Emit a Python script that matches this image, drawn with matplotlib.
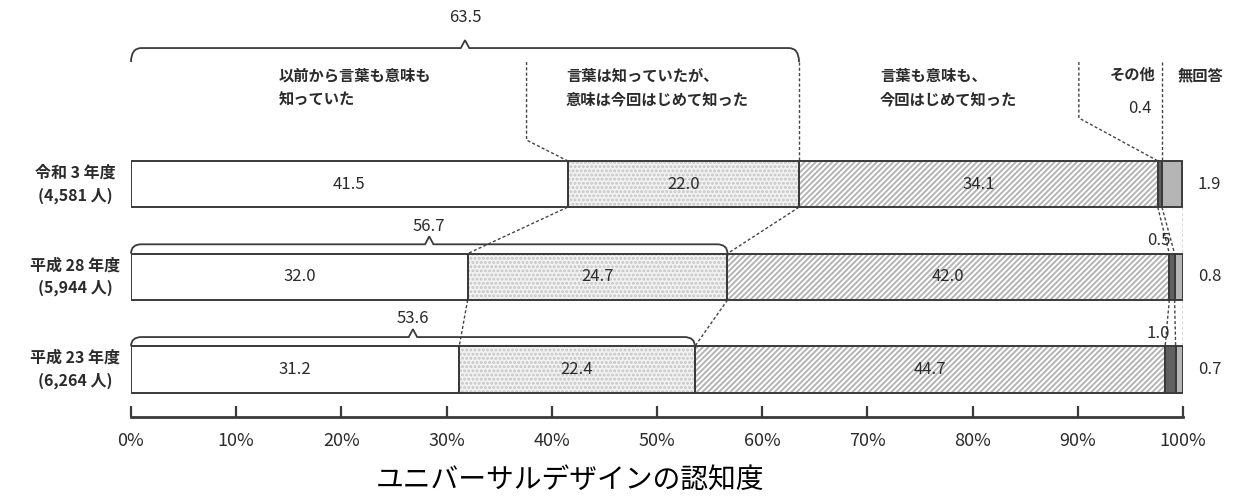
import matplotlib
matplotlib.use('Agg')
import matplotlib.pyplot as plt
from matplotlib.path import Path
from matplotlib.patches import PathPatch
import numpy as np

plt.rcParams['font.family'] = ['Noto Sans CJK JP', 'DejaVu Sans']
plt.rcParams['hatch.linewidth'] = 1.4

# data
rows = ['令和 3 年度\n(4,581 人)', '平成 28 年度\n(5,944 人)', '平成 23 年度\n(6,264 人)']
knew_both = [41.5, 32.0, 31.2]
knew_word = [22.0, 24.7, 22.4]
knew_none = [34.1, 42.0, 44.7]
other = [0.4, 0.5, 1.0]
no_answer = [1.9, 0.8, 0.7]
categories = ['以前から言葉も意味も\n知っていた', '言葉は知っていたが、\n意味は今回はじめて知った',
              '言葉も意味も、\n今回はじめて知った', 'その他', '無回答']
ticks = list(range(0, 101, 10))
title = 'ユニバーサルデザインの認知度'

INK = '#2b2b2b'
EDGE = '#3a3a3a'
DASH = dict(color='#444444', lw=1.0, ls=(0, (2.2, 1.6)))

fig = plt.figure(figsize=(12.34, 4.97), dpi=100)
ax = fig.add_axes([131 / 1234, 80 / 497, 1052 / 1234, 417 / 497])
ax.set_xlim(0, 100)
ax.set_ylim(2.512, -1.984)

y = np.arange(len(rows))
h = 0.5
segs = [knew_both, knew_word, knew_none, other, no_answer]
styles = [
    dict(fc='white', hatch=None, hc=None),
    dict(fc='#f2f2f2', hatch='....', hc='#c4c4c4'),
    dict(fc='white', hatch='//////', hc='#b4b4b4'),
    dict(fc='#606060', hatch=None, hc=None),
    dict(fc='#b5b5b5', hatch=None, hc=None),
]
left = np.zeros(len(rows))
bounds = [left.copy()]
for vals, st in zip(segs, styles):
    vals = np.array(vals)
    if st['hatch']:
        ax.barh(y, vals, left=left, height=h, color=st['fc'], edgecolor=st['hc'],
                hatch=st['hatch'], linewidth=0, zorder=2)
    else:
        ax.barh(y, vals, left=left, height=h, color=st['fc'], linewidth=0, zorder=2)
    ax.barh(y, vals, left=left, height=h, fill=False, edgecolor=EDGE, linewidth=1.4, zorder=3)
    left = left + vals
    bounds.append(left.copy())
bounds = np.array(bounds)  # shape (6, rows)

# value labels inside the big segments
for k in range(3):
    for i in range(len(rows)):
        ax.text(bounds[k, i] + segs[k][i] / 2, y[i], f'{segs[k][i]:.1f}', ha='center', va='center',
                fontsize=12, color=INK, zorder=4)
# no answer outside on the right
for i in range(len(rows)):
    ax.text(101.4, y[i], f'{no_answer[i]:.1f}', ha='left', va='center', fontsize=12, color=INK)
# "other" small labels
ax.text(95.9, y[0] - 0.81, f'{other[0]:.1f}', ha='center', va='center', fontsize=12, color=INK)
for i in (1, 2):
    ax.text(98.8, y[i] - 0.39, f'{other[i]:.1f}', ha='right', va='center', fontsize=12, color=INK)

# row labels
for i, r in enumerate(rows):
    ax.text(-5.3, y[i], r, ha='center', va='center', multialignment='center', fontsize=11.5,
            fontweight='bold', color=INK, linespacing=1.5, clip_on=False)


def brace(x0, x1, y_line, y_end, peak=0.085, r=1.0, w=0.4):
    xm = (x0 + x1) / 2
    verts = [(x0, y_end), (x0, y_line), (x0 + r, y_line), (xm - w, y_line), (xm, y_line - peak),
             (xm + w, y_line), (x1 - r, y_line), (x1, y_line), (x1, y_end)]
    codes = [Path.MOVETO, Path.CURVE3, Path.CURVE3, Path.LINETO, Path.LINETO, Path.LINETO,
             Path.LINETO, Path.CURVE3, Path.CURVE3]
    ax.add_patch(PathPatch(Path(verts, codes), fill=False, edgecolor=EDGE, lw=1.3, clip_on=False))
    return xm


totals = [a + b for a, b in zip(knew_both, knew_word)]
# top brace for the first row
xm = brace(0, totals[0], -1.466, -1.315)
ax.text(xm, -1.80, f'{totals[0]:.1f}', ha='center', va='center', fontsize=12, color=INK)
for i in (1, 2):
    xm = brace(0, totals[i], y[i] - 0.35, y[i] - h / 2)
    ax.text(xm, y[i] - 0.545, f'{totals[i]:.1f}', ha='center', va='center', fontsize=12, color=INK)

# category headers
hy = -1.04
for x0, txt in zip([14.0, 41.35, 71.2], categories[:3]):
    ax.text(x0, hy, txt, ha='left', va='center', fontsize=11, fontweight='bold',
            color=INK, linespacing=1.6)
ax.text(97.4, -1.175, categories[3], ha='right', va='center', fontsize=11, fontweight='bold',
        color=INK)
ax.text(99.5, -1.175, categories[4], ha='left', va='center', fontsize=11, fontweight='bold',
        color=INK, clip_on=False)

# leaders from headers to the first row
top = y[0] - h / 2
ax.plot([37.6, 37.6, bounds[1, 0]], [-1.315, -0.474, top], clip_on=False, **DASH)
ax.plot([bounds[2, 0], bounds[2, 0]], [-1.315, top], clip_on=False, **DASH)
ax.plot([90.1, 90.1, bounds[3, 0]], [-1.315, -0.712, top], clip_on=False, **DASH)
ax.plot([bounds[4, 0], bounds[4, 0]], [-1.315, top], clip_on=False, **DASH)

# connectors between rows
for i in range(len(rows) - 1):
    for k in (1, 2, 3, 4):
        ax.plot([bounds[k, i], bounds[k, i + 1]], [y[i] + h / 2, y[i + 1] - h / 2], **DASH)
    ax.plot([100, 100], [y[i] + h / 2, y[i + 1] - h / 2], **DASH)

# axis
for s in ('left', 'top', 'right'):
    ax.spines[s].set_visible(False)
ax.spines['bottom'].set_linewidth(2)
ax.spines['bottom'].set_color(EDGE)
ax.set_yticks([])
ax.set_xticks(ticks)
ax.set_xticklabels([f'{t}%' for t in ticks])
ax.tick_params(axis='x', direction='in', length=8, width=1.6, color=EDGE, pad=11,
               labelsize=13, labelcolor=INK)

fig.text(570 / 1234, 1 - 480 / 497, title, ha='center', va='center', fontsize=20, color='black')

fig.savefig('out.png', dpi=100)
